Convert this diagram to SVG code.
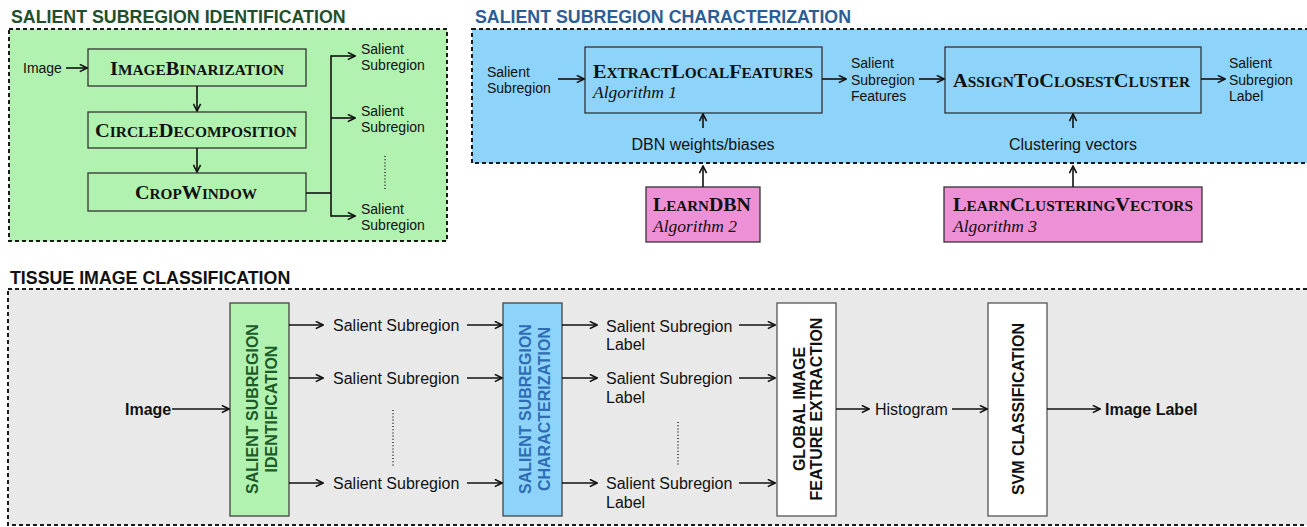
<svg xmlns="http://www.w3.org/2000/svg" width="1307" height="527" viewBox="0 0 1307 527">
<style>
.panel{stroke:#1a1a1a;stroke-width:2;stroke-dasharray:4 3}
.title{font-family:"Liberation Sans",Arial,sans-serif;font-weight:bold;font-size:17.8px}
.box{stroke:#333;stroke-width:1.3}
.sc{font-family:"Liberation Serif","Times New Roman",serif;font-weight:bold;fill:#111}
.big{font-size:18.5px}
.sm{font-size:14px}
.alg{font-family:"Liberation Serif","Times New Roman",serif;font-style:italic;font-size:17.5px;fill:#111}
.lbl{font-family:"Liberation Sans",Arial,sans-serif;font-size:14px;fill:#111}
.lbl16{font-family:"Liberation Sans",Arial,sans-serif;font-size:16px;fill:#111}
.b16{font-family:"Liberation Sans",Arial,sans-serif;font-size:16px;font-weight:bold;fill:#111}
.vt{font-family:"Liberation Sans",Arial,sans-serif;font-size:16px;font-weight:bold;text-anchor:middle}
.ln{stroke:#111;stroke-width:1.6;fill:none}
.ar{stroke:#111;stroke-width:1.6;fill:none;marker-end:url(#ah)}
.dots{stroke:#333;stroke-width:1.6;stroke-dasharray:1 2.2;fill:none}
</style>
<defs>
<marker id="ah" viewBox="0 0 10 10" refX="9" refY="5" markerWidth="9" markerHeight="9" markerUnits="userSpaceOnUse" orient="auto">
<path d="M1,1 L9,5 L1,9" fill="none" stroke="#111" stroke-width="1.8"/>
</marker>
</defs>
<rect width="1307" height="527" fill="#fff"/>

<!-- Panels -->
<g id="panel-identification">
<rect x="9" y="29" width="438" height="212" fill="#b2f2b0" class="panel"/>
<text x="11" y="22.5" class="title" fill="#1f4f2d">SALIENT SUBREGION IDENTIFICATION</text>
</g>
<g id="panel-characterization">
<rect x="472" y="29" width="836" height="134" fill="#8ed4fa" class="panel"/>
<text x="475" y="22.5" class="title" fill="#2c5d96">SALIENT SUBREGION CHARACTERIZATION</text>
</g>
<g id="panel-classification">
<rect x="8" y="289" width="1300" height="236" fill="#e9e9e9" class="panel"/>
<text x="10" y="283.5" class="title" fill="#111">TISSUE IMAGE CLASSIFICATION</text>
</g>

<!-- Identification nodes -->
<g id="image-binarization">
<rect x="88" y="49" width="218" height="37" fill="#b2f2b0" class="box"/>
<text x="110" y="75" class="sc" textLength="174" lengthAdjust="spacingAndGlyphs"><tspan class="big">I</tspan><tspan class="sm">MAGE</tspan><tspan class="big">B</tspan><tspan class="sm">INARIZATION</tspan></text>
</g>
<g id="circle-decomposition">
<rect x="88" y="112" width="218" height="36" fill="#b2f2b0" class="box"/>
<text x="95" y="137" class="sc" textLength="202" lengthAdjust="spacingAndGlyphs"><tspan class="big">C</tspan><tspan class="sm">IRCLE</tspan><tspan class="big">D</tspan><tspan class="sm">ECOMPOSITION</tspan></text>
</g>
<g id="crop-window">
<rect x="88" y="173" width="218" height="38" fill="#b2f2b0" class="box"/>
<text x="135" y="199" class="sc" textLength="122" lengthAdjust="spacingAndGlyphs"><tspan class="big">C</tspan><tspan class="sm">ROP</tspan><tspan class="big">W</tspan><tspan class="sm">INDOW</tspan></text>
</g>
<g id="id-labels">
<text x="23" y="73" class="lbl">Image</text>
<text x="361" y="54" class="lbl">Salient</text>
<text x="361" y="70" class="lbl">Subregion</text>
<text x="361" y="116" class="lbl">Salient</text>
<text x="361" y="132" class="lbl">Subregion</text>
<text x="361" y="214" class="lbl">Salient</text>
<text x="361" y="230" class="lbl">Subregion</text>
</g>

<!-- Characterization nodes -->
<g id="extract-local-features">
<rect x="585" y="47" width="237" height="66" fill="#8ed4fa" class="box"/>
<text x="593" y="78" class="sc" textLength="220" lengthAdjust="spacingAndGlyphs"><tspan class="big">E</tspan><tspan class="sm">XTRACT</tspan><tspan class="big">L</tspan><tspan class="sm">OCAL</tspan><tspan class="big">F</tspan><tspan class="sm">EATURES</tspan></text>
<text x="593" y="98" class="alg">Algorithm 1</text>
</g>
<g id="assign-to-closest-cluster">
<rect x="945" y="47" width="256" height="66" fill="#8ed4fa" class="box"/>
<text x="953" y="87" class="sc" textLength="237" lengthAdjust="spacingAndGlyphs"><tspan class="big">A</tspan><tspan class="sm">SSIGN</tspan><tspan class="big">T</tspan><tspan class="sm">O</tspan><tspan class="big">C</tspan><tspan class="sm">LOSEST</tspan><tspan class="big">C</tspan><tspan class="sm">LUSTER</tspan></text>
</g>
<g id="learn-dbn">
<rect x="646" y="187" width="114" height="55" fill="#ee90d6" class="box"/>
<text x="653" y="211" class="sc" textLength="98" lengthAdjust="spacingAndGlyphs"><tspan class="big">L</tspan><tspan class="sm">EARN</tspan><tspan class="big">DBN</tspan></text>
<text x="653" y="232" class="alg">Algorithm 2</text>
</g>
<g id="learn-clustering-vectors">
<rect x="944" y="187" width="258" height="55" fill="#ee90d6" class="box"/>
<text x="953" y="211" class="sc" textLength="240" lengthAdjust="spacingAndGlyphs"><tspan class="big">L</tspan><tspan class="sm">EARN</tspan><tspan class="big">C</tspan><tspan class="sm">LUSTERING</tspan><tspan class="big">V</tspan><tspan class="sm">ECTORS</tspan></text>
<text x="953" y="232" class="alg">Algorithm 3</text>
</g>
<g id="char-labels">
<text x="487" y="77" class="lbl">Salient</text>
<text x="487" y="93" class="lbl">Subregion</text>
<text x="851" y="68" class="lbl">Salient</text>
<text x="851" y="85" class="lbl">Subregion</text>
<text x="851" y="101" class="lbl">Features</text>
<text x="1229" y="68" class="lbl">Salient</text>
<text x="1229" y="85" class="lbl">Subregion</text>
<text x="1229" y="101" class="lbl">Label</text>
<text x="703" y="150" class="lbl16" text-anchor="middle">DBN weights/biases</text>
<text x="1073" y="150" class="lbl16" text-anchor="middle">Clustering vectors</text>
</g>

<!-- Classification nodes -->
<g id="ssi-box">
<rect x="230" y="303" width="59" height="213" fill="#b2f2b0" stroke="#444" stroke-width="1.3"/>
<text transform="translate(258,409) rotate(-90)" class="vt" fill="#1c5b2a">SALIENT SUBREGION</text>
<text transform="translate(277,409) rotate(-90)" class="vt" fill="#1c5b2a">IDENTIFICATION</text>
</g>
<g id="ssc-box">
<rect x="503" y="303" width="59" height="213" fill="#8ed4fa" stroke="#444" stroke-width="1.3"/>
<text transform="translate(531,409) rotate(-90)" class="vt" fill="#2e6db4">SALIENT SUBREGION</text>
<text transform="translate(550,409) rotate(-90)" class="vt" fill="#2e6db4">CHARACTERIZATION</text>
</g>
<g id="gife-box">
<rect x="777" y="303" width="59" height="213" fill="#fff" stroke="#555" stroke-width="1.3"/>
<text transform="translate(805,409) rotate(-90)" class="vt" fill="#111">GLOBAL IMAGE</text>
<text transform="translate(822,409) rotate(-90)" class="vt" fill="#111">FEATURE EXTRACTION</text>
</g>
<g id="svm-box">
<rect x="988" y="303" width="59" height="213" fill="#fff" stroke="#555" stroke-width="1.3"/>
<text transform="translate(1024,409) rotate(-90)" class="vt" fill="#111">SVM CLASSIFICATION</text>
</g>
<g id="class-labels">
<text x="125" y="415" class="b16">Image</text>
<text x="333" y="331" class="lbl16">Salient Subregion</text>
<text x="333" y="384" class="lbl16">Salient Subregion</text>
<text x="333" y="489" class="lbl16">Salient Subregion</text>
<text x="606" y="332" class="lbl16">Salient Subregion</text>
<text x="606" y="350" class="lbl16">Label</text>
<text x="606" y="384" class="lbl16">Salient Subregion</text>
<text x="606" y="403" class="lbl16">Label</text>
<text x="606" y="489" class="lbl16">Salient Subregion</text>
<text x="606" y="508" class="lbl16">Label</text>
<text x="875" y="415" class="lbl16">Histogram</text>
<text x="1105" y="415" class="b16">Image Label</text>
</g>

<!-- Connectors -->
<g id="connectors">
<line x1="66" y1="68" x2="87" y2="68" class="ar"/>
<line x1="197" y1="86" x2="197" y2="111" class="ar"/>
<line x1="197" y1="148" x2="197" y2="172" class="ar"/>
<polyline points="306,193 331,193" class="ln"/>
<line x1="331" y1="55.2" x2="331" y2="216.8" class="ln"/>
<line x1="331" y1="56" x2="355" y2="56" class="ar"/>
<line x1="331" y1="118" x2="355" y2="118" class="ar"/>
<line x1="331" y1="216" x2="355" y2="216" class="ar"/>
<line x1="385" y1="156" x2="385" y2="191" class="dots"/>

<line x1="558" y1="79" x2="584" y2="79" class="ar"/>
<line x1="822" y1="79" x2="846" y2="79" class="ar"/>
<line x1="919" y1="79" x2="944" y2="79" class="ar"/>
<line x1="1201" y1="79" x2="1225" y2="79" class="ar"/>
<line x1="703" y1="128" x2="703" y2="114" class="ar"/>
<line x1="703" y1="187" x2="703" y2="166" class="ar"/>
<line x1="1073" y1="128" x2="1073" y2="114" class="ar"/>
<line x1="1073" y1="187" x2="1073" y2="166" class="ar"/>

<line x1="172" y1="409" x2="229" y2="409" class="ar"/>
<line x1="289" y1="325" x2="323" y2="325" class="ar"/>
<line x1="289" y1="378" x2="323" y2="378" class="ar"/>
<line x1="289" y1="483" x2="323" y2="483" class="ar"/>
<line x1="393" y1="410" x2="393" y2="466" class="dots"/>
<line x1="467" y1="325" x2="502" y2="325" class="ar"/>
<line x1="467" y1="378" x2="502" y2="378" class="ar"/>
<line x1="467" y1="483" x2="502" y2="483" class="ar"/>
<line x1="562" y1="325" x2="597" y2="325" class="ar"/>
<line x1="562" y1="378" x2="597" y2="378" class="ar"/>
<line x1="562" y1="483" x2="597" y2="483" class="ar"/>
<line x1="678" y1="422" x2="678" y2="466" class="dots"/>
<line x1="739" y1="325" x2="775" y2="325" class="ar"/>
<line x1="739" y1="378" x2="775" y2="378" class="ar"/>
<line x1="739" y1="483" x2="775" y2="483" class="ar"/>
<line x1="836" y1="409" x2="869" y2="409" class="ar"/>
<line x1="952" y1="409" x2="987" y2="409" class="ar"/>
<line x1="1047" y1="409" x2="1100" y2="409" class="ar"/>
</g>
</svg>
